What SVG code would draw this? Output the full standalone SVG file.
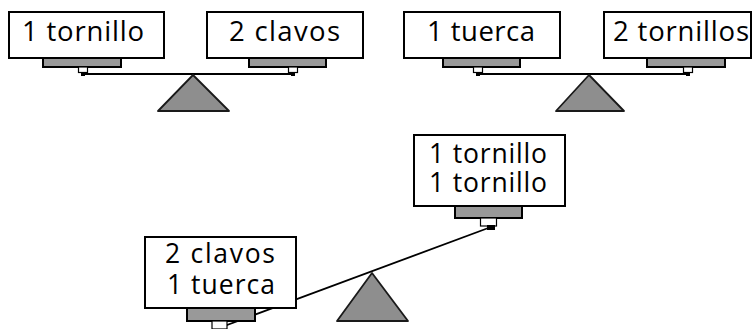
<svg xmlns="http://www.w3.org/2000/svg" width="752" height="329" viewBox="0 0 752 329">
<style>
.box{fill:#fff;stroke:#000;stroke-width:2}
.pan{fill:#999;stroke:#000;stroke-width:2}
.conn{fill:#fff;stroke:#000;stroke-width:1.2}
.dot{fill:#000}
.tri{fill:#8e8e8e;stroke:#1a1a1a;stroke-width:1.8;stroke-linejoin:round}
.beam{stroke:#000;stroke-width:1.8;fill:none}
text{font-family:"Open Sans","Liberation Sans",sans-serif;font-size:27.5px;fill:#000}
</style>
<g id="connectors">
<line class="beam" x1="83" y1="74" x2="293" y2="74"/>
<line class="beam" x1="478" y1="74" x2="688" y2="74"/>
<line class="beam" x1="219" y1="328" x2="491" y2="227"/>
</g>
<g id="scale1">
<polygon class="tri" points="193,75 158,111 229,111"/>
</g>
<g id="scale2">
<polygon class="tri" points="589,75 556,111 624,111"/>
</g>
<g id="scale3">
<polygon class="tri" points="372,273 337,321 408,321"/>
</g>
<g id="pan1">
<rect class="pan" x="43" y="58" width="78" height="9"/>
<rect class="conn" x="78.5" y="67" width="9" height="5.5"/>
<rect class="dot" x="81" y="72" width="4" height="4"/>
<rect class="box" x="9" y="12" width="155" height="46"/>
<text x="22" y="41" textLength="122">1 tornillo</text>
</g>
<g id="pan2">
<rect class="pan" x="249" y="58" width="77" height="9"/>
<rect class="conn" x="288.5" y="67" width="9" height="5.5"/>
<rect class="dot" x="291" y="72" width="4" height="4"/>
<rect class="box" x="207" y="12" width="156" height="46"/>
<text x="229" y="41" textLength="111">2 clavos</text>
</g>
<g id="pan3">
<rect class="pan" x="443" y="58" width="77" height="9"/>
<rect class="conn" x="473.5" y="67" width="9" height="5.5"/>
<rect class="dot" x="476" y="72" width="4" height="4"/>
<rect class="box" x="404" y="12" width="156" height="46"/>
<text x="427" y="41" textLength="108">1 tuerca</text>
</g>
<g id="pan4">
<rect class="pan" x="647" y="58" width="78" height="9"/>
<rect class="conn" x="683.5" y="67" width="9" height="5.5"/>
<rect class="dot" x="686" y="72" width="4" height="4"/>
<rect class="box" x="604" y="12" width="147" height="46"/>
<text x="613" y="41" textLength="136">2 tornillos</text>
</g>
<g id="pan5">
<rect class="pan" x="187" y="308" width="68" height="13"/>
<rect class="conn" x="212" y="321" width="15" height="8"/>
<rect class="box" x="145" y="237" width="151" height="71"/>
<text x="165" y="263" textLength="110" style="font-size:26.5px">2 clavos</text>
<text x="167" y="294" textLength="108" style="font-size:26.5px">1 tuerca</text>
</g>
<g id="pan6">
<rect class="pan" x="455" y="206" width="67" height="12"/>
<rect class="conn" x="480.5" y="218" width="16" height="8"/>
<rect class="dot" x="487" y="225" width="8" height="5"/>
<rect class="box" x="414" y="135" width="151" height="71"/>
<text x="429" y="163" textLength="118" style="font-size:26.5px">1 tornillo</text>
<text x="429" y="192" textLength="118" style="font-size:26.5px">1 tornillo</text>
</g>
</svg>
